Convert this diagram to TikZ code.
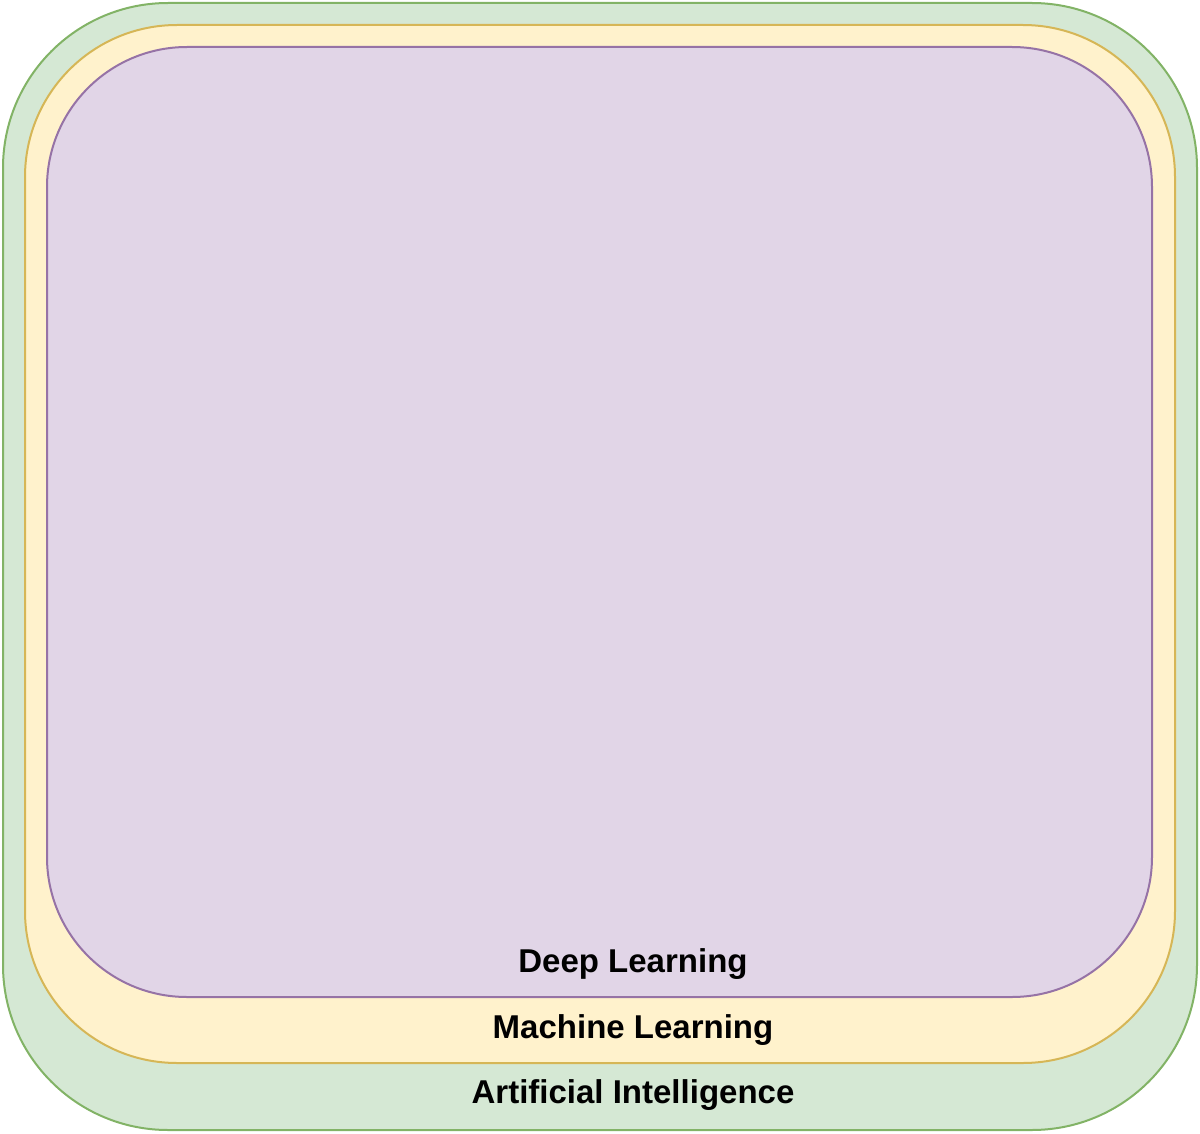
\documentclass[tikz,border=0pt]{standalone}
\usepackage{fontspec}
\setmainfont{Liberation Sans}
\definecolor{aifill}{HTML}{D5E8D4}
\definecolor{aidraw}{HTML}{82B366}
\definecolor{mlfill}{HTML}{FFF2CC}
\definecolor{mldraw}{HTML}{D6B656}
\definecolor{dlfill}{HTML}{E1D5E7}
\definecolor{dldraw}{HTML}{9673A6}
\tikzset{
  region/.style={line width=2pt},
  lbl/.style={anchor=base, inner sep=0pt, font=\fontsize{33}{39}\selectfont\bfseries, text=black}
}
\begin{document}
\begin{tikzpicture}[x=1pt,y=-1pt]
\useasboundingbox (0,0) rectangle (1200,1134);
\draw[region, fill=aifill, draw=aidraw, rounded corners=165pt] (3,3) rectangle (1197,1130);
\draw[region, fill=mlfill, draw=mldraw, rounded corners=152pt] (25,25) rectangle (1175,1063);
\draw[region, fill=dlfill, draw=dldraw, rounded corners=140pt] (47,47) rectangle (1152,997);
\node[lbl] (dl) at (633,972) {Deep Learning};
\node[lbl] (ml) at (633,1038) {Machine Learning};
\node[lbl] (ai) at (633,1103) {Artificial Intelligence};
\end{tikzpicture}
\end{document}
